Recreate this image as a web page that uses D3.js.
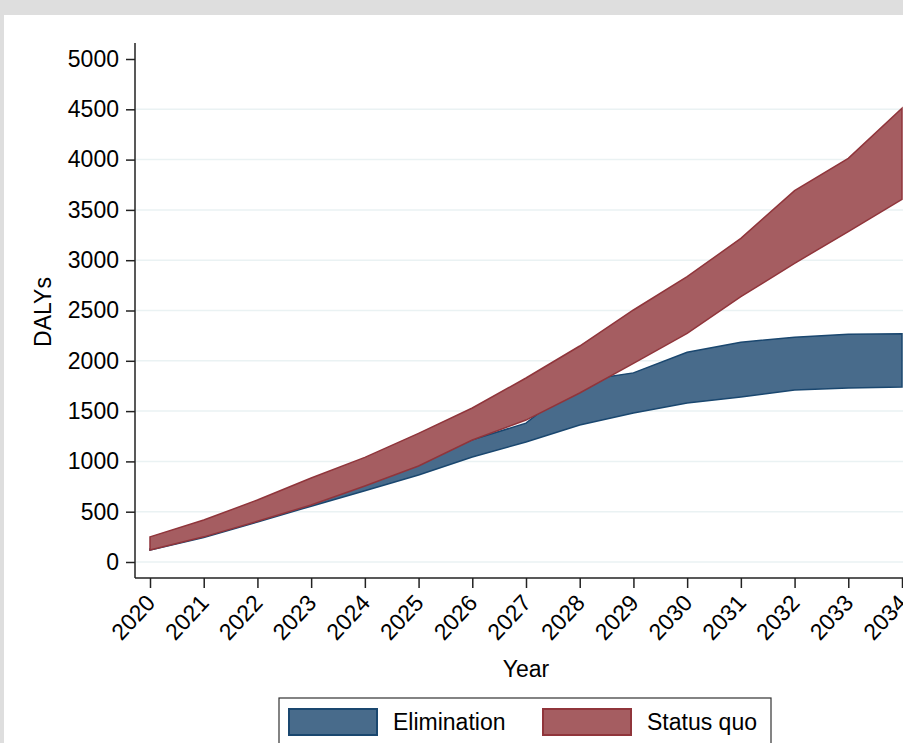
<!DOCTYPE html>
<html>
<head>
<meta charset="utf-8">
<script src="https://cdn.jsdelivr.net/npm/d3@7"></script>
<style>
  body { margin: 0; background: #dedede; }
  text { font-family: "Liberation Sans", Arial, sans-serif; fill: #000; }
</style>
</head>
<body>
<svg id="chart" width="903" height="743"></svg>
<script>
// values
const years    = [2020, 2021, 2022, 2023, 2024, 2025, 2026, 2027, 2028, 2029, 2030, 2031, 2032, 2033, 2034];
const elimLow  = [118, 243, 398, 555, 709, 865, 1044, 1193, 1362, 1481, 1580, 1640, 1710, 1730, 1740];
const elimHigh = [130, 260, 420, 600, 780, 1000, 1215, 1380, 1800, 1880, 2085, 2185, 2235, 2265, 2270];
const sqLow    = [120, 250, 405, 567, 755, 954, 1213, 1411, 1680, 1975, 2273, 2637, 2969, 3284, 3605];
const sqHigh   = [250, 417, 616, 835, 1040, 1279, 1531, 1829, 2147, 2505, 2836, 3217, 3691, 4013, 4510];
const yTicks   = [0, 500, 1000, 1500, 2000, 2500, 3000, 3500, 4000, 4500, 5000];
const legendNames = ["Elimination", "Status quo"];

const svg = d3.select('#chart');
const FONT = '"Liberation Sans", Arial, sans-serif';

// white graph region
svg.append('rect').attr('x', 4).attr('y', 15).attr('width', 899).attr('height', 728).attr('fill', '#fff');

const x = d3.scaleLinear().domain([2020, 2034]).range([150, 902]);
const y = d3.scaleLinear().domain([0, 5000]).range([562, 59]);

// gridlines (none at the top tick)
svg.append('g').selectAll('line')
  .data(yTicks.filter(d => d < 5000))
  .join('line')
  .attr('x1', 136).attr('x2', 903)
  .attr('y1', d => y(d)).attr('y2', d => y(d))
  .attr('stroke', '#eaf2f3').attr('stroke-width', 1.5);

const elim = years.map((d, i) => ({year: d, lo: elimLow[i], hi: elimHigh[i]}));
const sq = years.map((d, i) => ({year: d, lo: sqLow[i], hi: sqHigh[i]}));

const area = d3.area()
  .x(d => x(d.year))
  .y0(d => y(d.lo))
  .y1(d => y(d.hi));

svg.append('path').datum(elim).attr('d', area)
  .attr('fill', '#486b8b').attr('stroke', '#1a476f').attr('stroke-width', 1.5);
svg.append('path').datum(sq).attr('d', area)
  .attr('fill', '#a55d61').attr('stroke', '#90353b').attr('stroke-width', 1.5);

// y axis
const yAxis = svg.append('g')
  .attr('transform', 'translate(135,0)')
  .call(d3.axisLeft(y).tickValues(yTicks).tickFormat(d3.format('d')).tickSize(9).tickPadding(7).tickSizeOuter(0));
yAxis.select('.domain').remove();
yAxis.append('line').attr('x1', 0).attr('x2', 0).attr('y1', 43).attr('y2', 578)
  .attr('stroke', '#222').attr('stroke-width', 1.5);
yAxis.selectAll('.tick line').attr('stroke', '#222').attr('stroke-width', 1.5);
yAxis.selectAll('.tick text').attr('font-size', 23).attr('fill', '#000')
  .attr('font-family', FONT);

// x axis
const xAxis = svg.append('g')
  .attr('transform', 'translate(0,578)')
  .call(d3.axisBottom(x).tickValues(years).tickFormat(d3.format('d')).tickSize(10).tickSizeOuter(0));
xAxis.select('.domain').remove();
xAxis.append('line').attr('x1', 135).attr('x2', 903).attr('y1', 0).attr('y2', 0)
  .attr('stroke', '#222').attr('stroke-width', 1.5);
xAxis.selectAll('.tick line').attr('stroke', '#222').attr('stroke-width', 1.5);
xAxis.selectAll('.tick text')
  .attr('font-size', 23).attr('fill', '#000')
  .attr('font-family', FONT)
  .attr('text-anchor', 'end')
  .attr('dy', null).attr('y', 0)
  .attr('transform', 'translate(6,26) rotate(-47)');

// axis titles
svg.append('text').attr('x', 526).attr('y', 677).attr('text-anchor', 'middle')
  .attr('font-size', 23).text('Year');
svg.append('text').attr('transform', 'translate(51,312) rotate(-90)').attr('text-anchor', 'middle')
  .attr('font-size', 23).text('DALYs');

// legend
const legend = svg.append('g');
legend.append('rect').attr('x', 279).attr('y', 698).attr('width', 492).attr('height', 60)
  .attr('fill', '#fff').attr('stroke', '#333').attr('stroke-width', 1.2);
const swatchX = [289, 543];
const fills = ['#486b8b', '#a55d61'];
const strokes = ['#1a476f', '#90353b'];
legendNames.forEach((name, i) => {
  legend.append('rect').attr('x', swatchX[i]).attr('y', 709).attr('width', 88).attr('height', 26)
    .attr('fill', fills[i]).attr('stroke', strokes[i]).attr('stroke-width', 2);
  legend.append('text').attr('x', swatchX[i] + 104).attr('y', 730)
    .attr('font-size', 23).text(name);
});
</script>
</body>
</html>
